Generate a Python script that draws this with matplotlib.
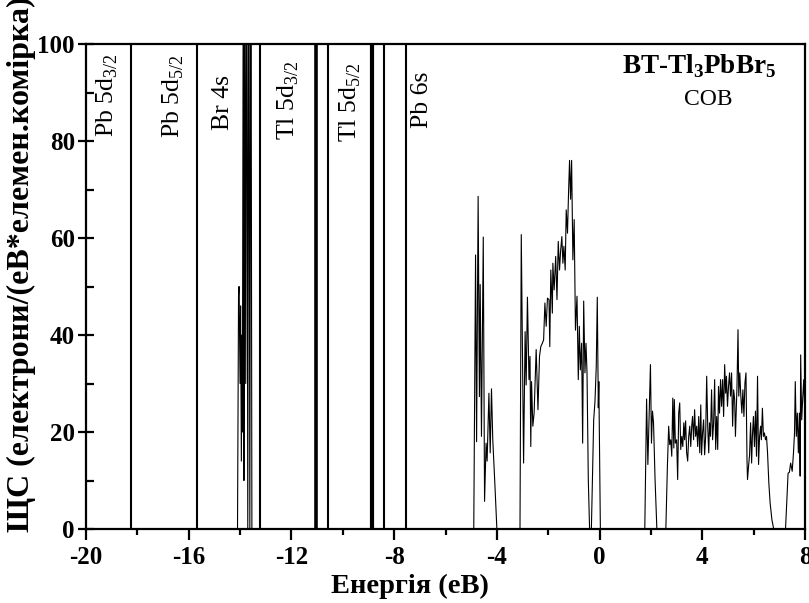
import matplotlib
matplotlib.use("Agg")
import matplotlib.pyplot as plt
from matplotlib.ticker import MultipleLocator

plt.rcParams['font.family'] = ['Liberation Serif', 'DejaVu Serif']
plt.rcParams['mathtext.fontset'] = 'custom'
plt.rcParams['mathtext.rm'] = 'Liberation Serif'
plt.rcParams['mathtext.bf'] = 'Liberation Serif:bold'
plt.rcParams['axes.unicode_minus'] = False

# --- дані: ЩС (енергія, eV -> стани) ---
energy = [
    # Br 4s
    -20.0, -14.10, -14.06, -14.04, -14.00, -13.98, -13.95, -13.93, -13.91, -13.89,
    -13.87, -13.85, -13.82, -13.78, -13.74, -13.70, -13.66, -13.62, -13.58, -13.54,
    # валентна зона
    -4.90, -4.83, -4.79, -4.73, -4.68, -4.65, -4.60, -4.53, -4.48, -4.42, -4.38,
    -4.31, -4.26, -4.21, -4.16, -4.08, -4.00,
    -3.10, -3.05, -2.96, -2.90, -2.86, -2.81, -2.75, -2.71, -2.68, -2.65, -2.60,
    -2.55, -2.47, -2.40, -2.34, -2.29, -2.23, -2.18, -2.13, -2.08, -2.03, -1.97,
    -1.94, -1.90, -1.84, -1.82, -1.77, -1.71, -1.66, -1.61, -1.56, -1.52, -1.47,
    -1.43, -1.39, -1.34, -1.30, -1.25, -1.21, -1.17, -1.13, -1.09, -1.04, -0.99,
    -0.94, -0.88, -0.83, -0.79, -0.75, -0.70, -0.66, -0.62, -0.57, -0.53, -0.49,
    -0.44, -0.39, -0.32, -0.23, -0.18, -0.13, -0.09, -0.05, -0.03, 0.03,
    # зона провідності
    1.76, 1.83, 1.88, 1.93, 1.98, 2.02, 2.06, 2.10, 2.16, 2.23,
    2.58, 2.64, 2.69, 2.73, 2.77, 2.81, 2.85, 2.89, 2.91, 2.95, 3.00, 3.04, 3.08,
    3.12, 3.16, 3.20, 3.24, 3.28, 3.31, 3.35, 3.39, 3.43, 3.47, 3.51, 3.55, 3.59,
    3.62, 3.66, 3.70, 3.74, 3.78, 3.82, 3.86, 3.90, 3.94, 3.97, 4.01, 4.05, 4.09,
    4.13, 4.17, 4.21, 4.25, 4.28, 4.32, 4.36, 4.40, 4.44, 4.48, 4.52, 4.56, 4.60,
    4.63, 4.67, 4.71, 4.75, 4.79, 4.83, 4.87, 4.91, 4.94, 4.98, 5.02, 5.06, 5.10,
    5.14, 5.18, 5.22, 5.26, 5.29, 5.35, 5.39, 5.42, 5.46, 5.50, 5.54, 5.58, 5.62,
    5.66, 5.70, 5.74, 5.76, 5.80, 5.84, 5.88, 5.92, 5.95, 5.99, 6.03, 6.07, 6.11,
    6.15, 6.19, 6.23, 6.27, 6.30, 6.34, 6.38, 6.42, 6.46, 6.50, 6.54, 6.59, 6.64,
    6.71, 6.78, 7.24, 7.29, 7.34, 7.39, 7.44, 7.50, 7.55, 7.59, 7.62, 7.66, 7.70,
    7.74, 7.78, 7.81, 7.83, 7.87, 7.91, 7.95, 8.00,
]
dos = [
    0, 0, 48, 50, 30, 46, 14, 40, 20, 77,
    140, 10, 140, 30, 140, 0, 140, 0, 140, 0,
    0, 56.5, 18, 68.6, 27.3, 50.4, 19.1, 60.2, 5.7, 17.7, 14,
    28, 15.7, 28.9, 18.4, 9.5, 0,
    0, 60.7, 13.6, 40.7, 29.7, 47.8, 30.8, 35.6, 17, 30.4, 21.2,
    23.9, 37, 24.6, 35.6, 37.6, 38.3, 39, 46.6, 41.8, 47.6, 47.3,
    37.6, 53.4, 44.5, 54.8, 49.3, 56.2, 47.3, 59.3, 53.4, 57.2, 60.3,
    54.8, 58.3, 53.4, 65.8, 61, 69.2, 76, 68, 76, 55.5, 63.8,
    41, 48, 30.8, 41.8, 32.8, 38.3, 17.7, 47, 32.2, 38.3, 32.2,
    10.2, 0, 0, 22.5, 26.3, 33.5, 47.8, 25, 30.4, 0,
    0, 26.8, 13.3, 23.9, 33.9, 17.7, 24.3, 21.9, 10.2, 0,
    0, 12.9, 21.2, 17.4, 18.4, 15, 27, 16.7, 26.7, 17.7, 18.4, 10.2, 23.9,
    26, 16.4, 19.1, 17, 21.9, 18.4, 22.3, 15.7, 14, 19.1, 21.2, 17, 21.5,
    23.2, 18.4, 24.6, 19.1, 21.2, 17, 23.2, 15.7, 25.6, 15.3, 19.8, 22.5, 15.3,
    19.1, 31.5, 21.2, 15.7, 21.9, 19.1, 28.7, 18.4, 21.9, 30.8, 16.4, 23.2, 16.4,
    29.4, 23.9, 30.8, 25.3, 30.8, 23.2, 33.9, 28, 31.5, 25.3, 29.4, 32.2, 27.4,
    32.2, 21.2, 28.7, 26.7, 19.1, 29.4, 41.1, 27.4, 32.2, 27.4, 23.9, 28.7, 23.2,
    30.1, 32.2, 14.3, 10.2, 12.9, 15.3, 21.9, 13.6, 19.1, 23.2, 17, 24.3, 15,
    31.5, 13.3, 19.1, 21.2, 18.4, 24.9, 19.1, 19.8, 18.4, 19.1, 15.7, 9.5, 5.4,
    1.9, 0, 0, 6, 11.5, 11.7, 13.6, 11.9, 15.7, 19.8, 30.4, 19.1, 23.9,
    15.7, 23.9, 10.9, 35.9, 22.5, 27, 30.8, 22.5,
]

# вузькі піки остовних рівнів (позиція, товщина)
core_pos = [-18.26, -15.68, -13.21, -11.05, -10.56, -8.87, -8.38, -7.52]
core_lw = [1.5, 1.5, 1.5, 2.6, 1.5, 3.0, 1.5, 1.5]

# підписи рівнів: (x лівого краю, y низу, текст)
lvl_x = [-19.65, -17.11, -15.09, -12.63, -10.21, -7.36]
lvl_y = [80.8, 80.6, 82.3, 80.2, 79.8, 82.7]
lvl_txt = [r'Pb 5d$_{\mathrm{3/2}}$', r'Pb 5d$_{\mathrm{5/2}}$', 'Br 4s',
           r'Tl 5d$_{\mathrm{3/2}}$', r'Tl 5d$_{\mathrm{5/2}}$', 'Pb 6s']

fig = plt.figure(figsize=(8.09, 6.03), dpi=100)
ax = fig.add_axes([0.1063, 0.1227, 0.8888, 0.8043])

ax.plot(energy, dos, color='black', lw=0.8)
for p, w in zip(core_pos, core_lw):
    ax.vlines(p, 0, 100, color='black', lw=w)

for x, y, t in zip(lvl_x, lvl_y, lvl_txt):
    ax.text(x, y, t, rotation=90, ha='left', va='bottom', fontsize=18.5)

ax.text(0.852, 0.94, r'BT-Tl$_{\mathbf{3}}$PbBr$_{\mathbf{5}}$', transform=ax.transAxes,
        ha='center', va='baseline', fontsize=19.5, fontweight='bold')
ax.text(0.866, 0.874, 'COB', transform=ax.transAxes, ha='center', va='baseline',
        fontsize=17)

ax.set_xlim(-20, 8)
ax.set_ylim(0, 100)
ax.xaxis.set_major_locator(MultipleLocator(4))
ax.xaxis.set_minor_locator(MultipleLocator(2))
ax.yaxis.set_major_locator(MultipleLocator(20))
ax.yaxis.set_minor_locator(MultipleLocator(10))

for s in ax.spines.values():
    s.set_linewidth(1.6)
ax.tick_params(axis='x', which='major', direction='out', length=8, width=1.6,
               labelsize=18, pad=4)
ax.tick_params(axis='x', which='minor', direction='out', length=4, width=1.6)
ax.tick_params(axis='y', which='major', direction='inout', length=12, width=1.6,
               labelsize=18, pad=2)
ax.tick_params(axis='y', which='minor', direction='in', length=6, width=1.6)
for lab in ax.get_xticklabels() + ax.get_yticklabels():
    lab.set_fontweight('bold')

ax.set_xlabel('Енергія (еВ)', fontsize=20.5, fontweight='bold')
ax.xaxis.set_label_coords(0.45, -0.092, transform=ax.transAxes)
ax.xaxis.label.set_va('top')
fig.text(0.027, 0.118, 'ЩС (електрони/(еВ*елемен.комірка))', rotation=90,
         ha='center', va='bottom', fontsize=23, fontweight='bold')

fig.savefig('out.png', dpi=100)
